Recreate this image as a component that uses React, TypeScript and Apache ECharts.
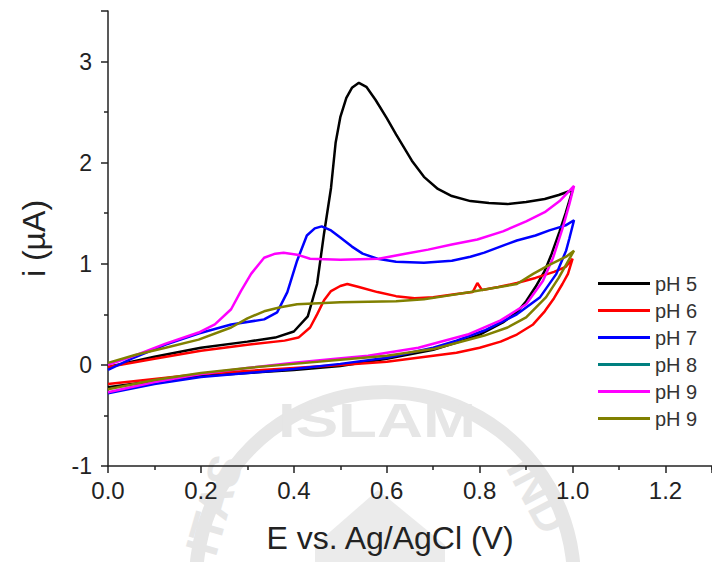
import React, { useEffect, useRef } from "react";
import * as echarts from "echarts";

// Cyclic voltammograms: [E (V), i (µA)] pairs, forward sweep then reverse sweep
const ph5: number[][] = [
  [0, -0.02], [0.1, 0.08], [0.2, 0.17], [0.3, 0.23], [0.36, 0.27], [0.4, 0.33], [0.43, 0.48], [0.45, 0.8],
  [0.465, 1.3], [0.48, 1.75], [0.49, 2.2], [0.5, 2.45], [0.513, 2.64], [0.525, 2.74], [0.54, 2.79], [0.556, 2.75],
  [0.576, 2.62], [0.6, 2.44], [0.62, 2.28], [0.654, 2.02], [0.68, 1.86], [0.71, 1.74], [0.74, 1.67], [0.78, 1.62],
  [0.82, 1.6], [0.86, 1.59], [0.9, 1.61], [0.94, 1.64], [0.97, 1.68], [1.0, 1.73],
  [0.985, 1.5], [0.972, 1.32], [0.955, 1.1], [0.94, 0.93], [0.92, 0.77], [0.9, 0.63], [0.88, 0.52], [0.85, 0.42],
  [0.8, 0.3], [0.75, 0.22], [0.7, 0.15], [0.6, 0.06], [0.5, -0.01], [0.4, -0.05], [0.3, -0.08], [0.2, -0.11],
  [0.1, -0.16], [0, -0.22],
];
const ph6: number[][] = [
  [0, -0.02], [0.1, 0.06], [0.2, 0.14], [0.3, 0.2], [0.38, 0.24], [0.41, 0.27], [0.435, 0.37], [0.45, 0.5],
  [0.465, 0.64], [0.48, 0.73], [0.5, 0.78], [0.515, 0.8], [0.54, 0.77], [0.58, 0.72], [0.62, 0.68], [0.66, 0.66],
  [0.7, 0.67], [0.75, 0.7], [0.785, 0.72], [0.795, 0.81], [0.805, 0.74], [0.84, 0.77], [0.88, 0.81], [0.92, 0.86],
  [0.96, 0.92], [0.985, 0.97], [1.0, 1.05],
  [0.99, 0.9], [0.978, 0.8], [0.96, 0.66], [0.94, 0.53], [0.915, 0.4], [0.88, 0.3], [0.845, 0.23], [0.8, 0.17],
  [0.75, 0.12], [0.7, 0.09], [0.6, 0.03], [0.5, 0.0], [0.4, -0.03], [0.3, -0.06], [0.2, -0.09], [0.1, -0.14],
  [0, -0.19],
];
const ph7: number[][] = [
  [0, -0.05], [0.05, 0.06], [0.124, 0.2], [0.195, 0.31], [0.265, 0.4], [0.336, 0.45], [0.364, 0.52], [0.386, 0.72],
  [0.407, 1.03], [0.428, 1.28], [0.445, 1.35], [0.46, 1.37], [0.48, 1.33], [0.5, 1.26], [0.525, 1.17], [0.548, 1.1],
  [0.58, 1.05], [0.62, 1.02], [0.68, 1.01], [0.74, 1.03], [0.78, 1.07], [0.81, 1.11], [0.85, 1.18], [0.88, 1.23],
  [0.92, 1.28], [0.95, 1.33], [0.985, 1.38], [1.003, 1.43],
  [0.993, 1.25], [0.986, 1.13], [0.965, 0.9], [0.93, 0.67], [0.88, 0.5], [0.81, 0.34], [0.75, 0.24], [0.7, 0.17],
  [0.6, 0.07], [0.5, 0.01], [0.4, -0.04], [0.3, -0.08], [0.2, -0.12], [0.1, -0.19], [0, -0.28],
];
const ph8: number[][] = [];
const ph9a: number[][] = [
  [0, 0.0], [0.05, 0.08], [0.124, 0.21], [0.195, 0.32], [0.23, 0.4], [0.265, 0.55], [0.286, 0.73], [0.308, 0.9],
  [0.336, 1.06], [0.36, 1.1], [0.378, 1.11], [0.407, 1.09], [0.435, 1.05], [0.5, 1.04], [0.583, 1.05], [0.64, 1.1],
  [0.689, 1.14], [0.74, 1.19], [0.795, 1.24], [0.85, 1.32], [0.9, 1.42], [0.94, 1.51], [0.972, 1.62], [1.003, 1.77],
  [0.993, 1.59], [0.979, 1.36], [0.958, 1.06], [0.936, 0.83], [0.9, 0.6], [0.845, 0.44], [0.774, 0.3], [0.668, 0.17],
  [0.56, 0.09], [0.49, 0.06], [0.4, 0.02], [0.3, -0.03], [0.2, -0.09], [0.1, -0.17], [0, -0.27],
];
const ph9b: number[][] = [
  [0, 0.02], [0.06, 0.1], [0.124, 0.17], [0.195, 0.25], [0.265, 0.37], [0.3, 0.46], [0.336, 0.53], [0.371, 0.57],
  [0.407, 0.6], [0.5, 0.62], [0.62, 0.63], [0.68, 0.65], [0.725, 0.68], [0.78, 0.72], [0.83, 0.76], [0.88, 0.8],
  [0.915, 0.9], [0.95, 0.99], [0.986, 1.07], [1.003, 1.13],
  [0.97, 0.86], [0.943, 0.67], [0.9, 0.47], [0.86, 0.37], [0.81, 0.29], [0.703, 0.16], [0.6, 0.09], [0.5, 0.05],
  [0.4, 0.01], [0.3, -0.03], [0.2, -0.08], [0.1, -0.15], [0, -0.24],
];

const seriesKeys = ["s5", "s6", "s7", "s8", "s9a", "s9b"];
const seriesLabels = ["pH 5", "pH 6", "pH 7", "pH 8", "pH 9", "pH 9"];
const seriesColors = ["#000000", "#ff0000", "#0000ff", "#008080", "#ff00ff", "#808000"];
const seriesData = [ph5, ph6, ph7, ph8, ph9a, ph9b];

const FONT = '"Liberation Sans", Arial, sans-serif';
const WM = "#e6e6e6";

export default function App() {
  const ref = useRef<HTMLDivElement>(null);
  useEffect(() => {
    if (!ref.current) return;
    const chart = echarts.init(ref.current, null, { renderer: "svg" });
    const labelOf: Record<string, string> = {};
    seriesKeys.forEach((k, i) => (labelOf[k] = seriesLabels[i]));
    chart.setOption({
      animation: false,
      backgroundColor: "#ffffff",
      textStyle: { fontFamily: FONT },
      graphic: [
        { type: "ring", silent: true, z: -10, shape: { cx: 385, cy: 581, r: 196, r0: 182 }, style: { fill: WM } },
        { type: "text", silent: true, z: -10, x: 377, y: 420, scaleX: 1.3, style: { text: "ISLAM", fontSize: 49, fontWeight: "bold", fontFamily: FONT, fill: WM, align: "center", verticalAlign: "middle" } },
        { type: "text", silent: true, z: -10, x: 214, y: 505, rotation: (74 * Math.PI) / 180, style: { text: "ITAS", fontSize: 46, fontWeight: "bold", fontFamily: FONT, fill: WM, align: "center", verticalAlign: "middle" } },
        { type: "text", silent: true, z: -10, x: 538, y: 495, rotation: (-62 * Math.PI) / 180, style: { text: "IND", fontSize: 46, fontWeight: "bold", fontFamily: FONT, fill: WM, align: "center", verticalAlign: "middle" } },
        { type: "polygon", silent: true, z: -10, shape: { points: [[315, 545], [378, 490], [445, 545], [445, 562], [315, 562]] }, style: { fill: "#ebebeb" } },
      ],
      grid: { left: 108, right: -10, top: 11, bottom: 96, containLabel: false },
      legend: {
        orient: "vertical",
        left: 593,
        top: 268,
        icon: "rect",
        itemWidth: 52,
        itemHeight: 3,
        itemGap: 6,
        data: seriesKeys,
        formatter: (name: string) => labelOf[name],
        textStyle: { fontSize: 20, lineHeight: 21, color: "#333", fontFamily: FONT },
      },
      xAxis: {
        type: "value",
        min: 0,
        max: 1.3,
        interval: 0.2,
        name: "E vs. Ag/AgCl (V)",
        nameLocation: "middle",
        nameGap: 56,
        nameTextStyle: { fontSize: 32, color: "#222", fontFamily: FONT, padding: [0, 40, 0, 0] },
        axisLine: { show: true, onZero: false, lineStyle: { color: "#222", width: 1.5 } },
        axisTick: { show: true, length: 7, lineStyle: { color: "#222", width: 1.5 } },
        minorTick: { show: true, splitNumber: 2, length: 4, lineStyle: { color: "#222", width: 1.5 } },
        splitLine: { show: false },
        axisLabel: { fontSize: 24, color: "#222", margin: 12, showMaxLabel: false, formatter: (v: number) => v.toFixed(1), fontFamily: FONT },
      },
      yAxis: {
        type: "value",
        min: -1,
        max: 3.5,
        interval: 1,
        name: "i (µA)",
        nameLocation: "middle",
        nameGap: 58,
        nameTextStyle: { fontSize: 32, color: "#222", fontFamily: FONT },
        axisLine: { show: true, onZero: false, lineStyle: { color: "#222", width: 1.5 } },
        axisTick: { show: true, length: 7, lineStyle: { color: "#222", width: 1.5 } },
        minorTick: { show: true, splitNumber: 2, length: 4, lineStyle: { color: "#222", width: 1.5 } },
        splitLine: { show: false },
        axisLabel: { fontSize: 23, color: "#222", margin: 16, showMaxLabel: false, fontFamily: FONT },
      },
      series: seriesKeys.map((k, i) => ({
        name: k,
        type: "line",
        data: seriesData[i],
        showSymbol: false,
        symbol: "none",
        color: seriesColors[i],
        lineStyle: { width: 2.5, color: seriesColors[i] },
      })),
    });
    return () => chart.dispose();
  }, []);
  return <div ref={ref} style={{ position: "absolute", left: 0, top: 0, width: 712, height: 562 }} />;
}
